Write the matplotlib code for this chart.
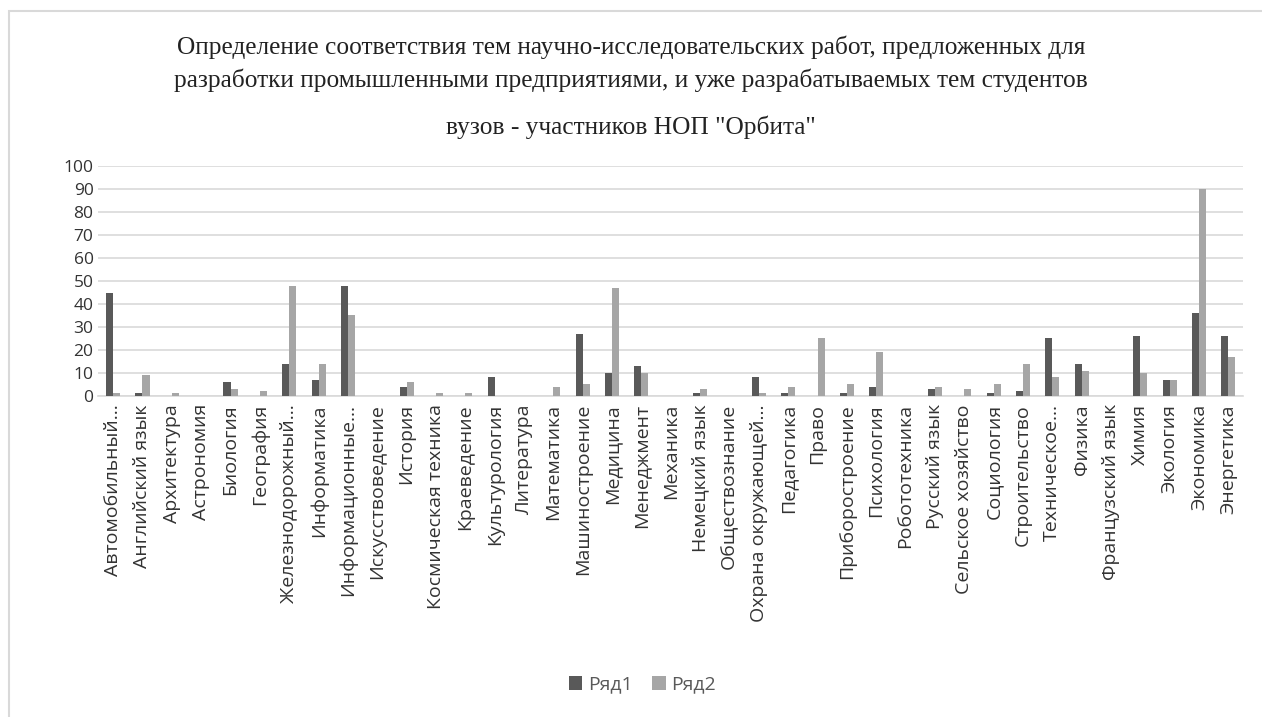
import numpy as np
import matplotlib.pyplot as plt
from matplotlib.patches import Rectangle

# data
categories = ["Автомобильный...", "Английский язык", "Архитектура", "Астрономия", "Биология",
              "География", "Железнодорожный...", "Информатика", "Информационные...",
              "Искусствоведение", "История", "Космическая техника", "Краеведение",
              "Культурология", "Литература", "Математика", "Машиностроение", "Медицина",
              "Менеджмент", "Механика", "Немецкий язык", "Обществознание",
              "Охрана окружающей...", "Педагогика", "Право", "Приборостроение", "Психология",
              "Робототехника", "Русский язык", "Сельское хозяйство", "Социология",
              "Строительство", "Техническое...", "Физика", "Французский язык", "Химия",
              "Экология", "Экономика", "Энергетика"]
row1 = [45, 1, 0, 0, 6, 0, 14, 7, 48, 0, 4, 0, 0, 8, 0, 0, 27, 10, 13, 0,
        1, 0, 8, 1, 0, 1, 4, 0, 3, 0, 1, 2, 25, 14, 0, 26, 7, 36, 26]
row2 = [1, 9, 1, 0, 3, 2, 48, 14, 35, 0, 6, 1, 1, 0, 0, 4, 5, 47, 10, 0,
        3, 0, 1, 4, 25, 5, 19, 0, 4, 3, 5, 14, 8, 11, 0, 10, 7, 90, 17]

title_lines = ['Определение соответствия тем научно-исследовательских работ, предложенных для',
               'разработки промышленными предприятиями, и уже разрабатываемых тем студентов',
               'вузов - участников НОП "Орбита"']

fig = plt.figure(figsize=(12.62, 7.17), dpi=100)
# chart frame (only top and left edges fall inside the picture)
fig.patches.append(Rectangle((0.007, -0.1), 1.2, 1.085, transform=fig.transFigure,
                             fill=False, edgecolor='#d9d9d9', linewidth=1.5))
ax = fig.add_axes([0.078, 0.448, 0.907, 0.32])

x = np.arange(len(categories))
w = 0.24
ax.bar(x - w / 2, row1, w, color='#595959', label='Ряд1', zorder=3)
ax.bar(x + w / 2, row2, w, color='#a6a6a6', label='Ряд2', zorder=3)

ax.set_xlim(-0.5, len(categories) - 0.5)
ax.set_ylim(0, 100)
ax.set_yticks(range(0, 101, 10))
ax.grid(axis='y', color='#d9d9d9', linewidth=1.2, zorder=0)
for s in ['top', 'right', 'left']:
    ax.spines[s].set_visible(False)
ax.spines['bottom'].set_color('#d9d9d9')
ax.spines['bottom'].set_linewidth(1.2)
ax.tick_params(length=0)
ax.tick_params(axis='x', pad=6)
ax.set_xticks(x)
ax.set_xticklabels(categories, rotation=90, fontsize=14, family='Open Sans', color='#333333')
for lab in ax.get_yticklabels():
    lab.set_fontsize(12.5)
    lab.set_family('Open Sans')
    lab.set_color('#333333')

for txt, yy in zip(title_lines, [0.934, 0.888, 0.823]):
    fig.text(0.5, yy, txt, ha='center', va='center', fontsize=18.3, family='Liberation Serif',
             color='#222222')

fig.legend(loc='center', bbox_to_anchor=(0.509, 0.045), ncol=2, frameon=False,
           prop={'family': 'Open Sans', 'size': 14}, handlelength=0.7, handleheight=0.7,
           columnspacing=1.0, handletextpad=0.3, labelcolor='#595959')

plt.savefig('out.png', dpi=100)
